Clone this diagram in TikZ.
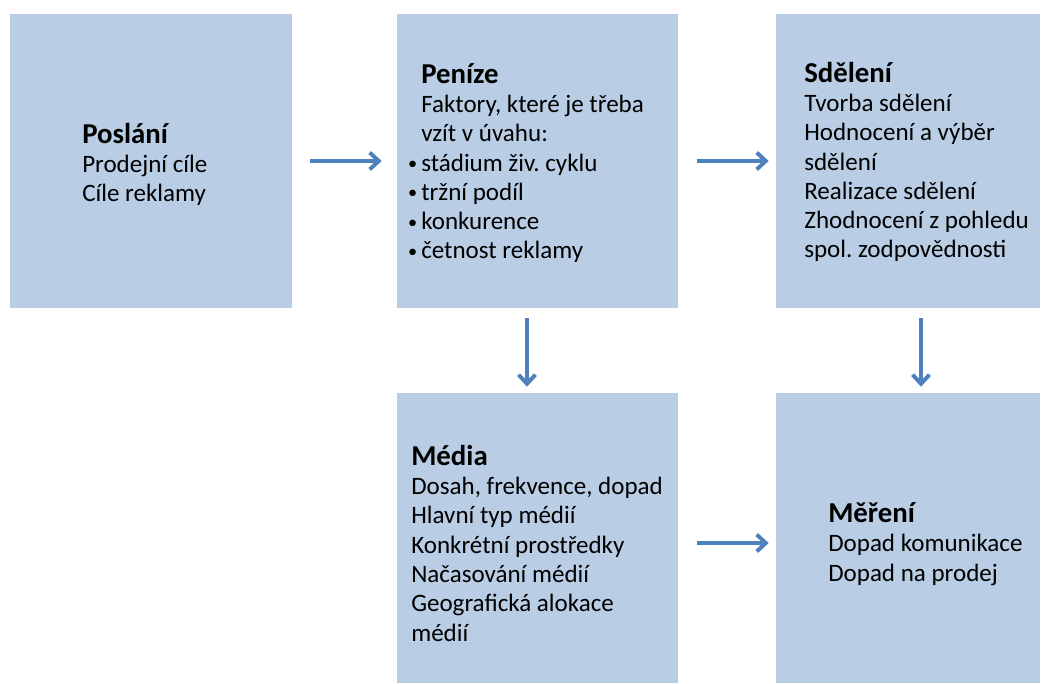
\documentclass[tikz,border=0pt]{standalone}
\usepackage{fontspec}
\setmainfont{Carlito}
\usetikzlibrary{arrows.meta}

\definecolor{boxblue}{HTML}{B9CDE5}
\definecolor{arrowblue}{HTML}{4F81BD}

\newcommand{\stagetitle}[1]{{\fontsize{20.5}{20.85}\selectfont\bfseries #1}}
\newcommand{\stagebullet}{\llap{\makebox[0.33cm][l]{\raisebox{1.2pt}{\fontsize{13}{13}\selectfont •}}}}

\tikzset{
    stagebox/.style={draw=none, fill=boxblue, rectangle, inner sep=0pt},
    stagetext/.style={anchor=base west, align=left, inner sep=0pt, text=black, font=\fontsize{17.8}{20.85}\selectfont\frenchspacing},
    flow/.style={-{Straight Barb[length=6.5pt,width=12pt]}, line width=2.8pt, draw=arrowblue, shorten <=0.475cm, shorten >=0.175cm}
}

\begin{document}
\begin{tikzpicture}
        \useasboundingbox (0,0) rectangle (26.075,-17.1);

        % Poslani
        \node[stagebox, minimum width=7.05cm, minimum height=7.35cm] at (3.775,-4.025) (poslani) {};
        \node[stagetext] at (2.05,-5.05) (poslanitext) {\stagetitle{Poslání}\\Prodejní cíle\\Cíle reklamy};

        % Penize
        \node[stagebox, minimum width=7.025cm, minimum height=7.35cm] at (13.4375,-4.025) (penize) {};
        \node[stagetext] at (10.525,-6.475) (penizetext) {\stagetitle{Peníze}\\Faktory, které je třeba\\vzít v úvahu:\\\stagebullet stádium živ. cyklu\\\stagebullet tržní podíl\\\stagebullet konkurence\\\stagebullet četnost reklamy};

        % Sdeleni
        \node[stagebox, minimum width=6.6cm, minimum height=7.35cm] at (22.7,-4.025) (sdeleni) {};
        \node[stagetext] at (20.1,-6.45) (sdelenitext) {\stagetitle{Sdělení}\\Tvorba sdělení\\Hodnocení a výběr\\sdělení\\Realizace sdělení\\Zhodnocení z pohledu\\spol. zodpovědnosti};

        % Media
        \node[stagebox, minimum width=7.025cm, minimum height=7.25cm] at (13.4375,-13.45) (media) {};
        \node[stagetext] at (10.275,-16.025) (mediatext) {\stagetitle{Média}\\Dosah, frekvence, dopad\\Hlavní typ médií\\Konkrétní prostředky\\Načasování médií\\Geografická alokace\\médií};

        % Mereni
        \node[stagebox, minimum width=6.6cm, minimum height=7.25cm] at (22.7,-13.45) (mereni) {};
        \node[stagetext] at (20.7,-14.525) (merenitext) {\stagetitle{Měření}\\Dopad komunikace\\Dopad na prodej};

        % Sipky
        \draw[flow, shorten <=0.45cm, shorten >=0.375cm] (poslani) -- (penize);
        \draw[flow] (penize) -- (sdeleni);
        \draw[flow, shorten <=0.25cm, shorten >=0.15cm] ([xshift=-0.2625cm]penize.south) -- ([xshift=-0.2625cm]media.north);
        \draw[flow, shorten <=0.25cm, shorten >=0.15cm] ([xshift=0.325cm]sdeleni.south) -- ([xshift=0.325cm]mereni.north);
        \draw[flow] ([yshift=-0.125cm]media.east) -- ([yshift=-0.125cm]mereni.west);
    \end{tikzpicture}
\end{document}
